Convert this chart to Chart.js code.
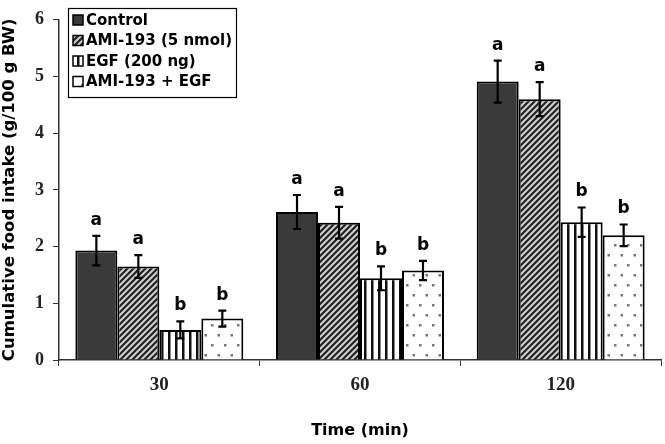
<!DOCTYPE html>
<html><head><meta charset="utf-8">
<script src="https://cdn.jsdelivr.net/npm/chart.js@4.4.1/dist/chart.umd.min.js"></script>
<style>html,body{margin:0;padding:0;background:#fff;}#wrap{width:665px;height:444px;}</style>
</head><body><div id="wrap"><canvas id="c" width="665" height="444"></canvas></div>
<script>
// ---- data ----
const categories = ['30', '60', '120'];
const seriesNames = ['Control', 'AMI-193 (5 nmol)', 'EGF (200 ng)', 'AMI-193 + EGF'];
const control = [1.93, 2.61, 4.91];
const ami = [1.65, 2.42, 4.60];
const egf = [0.53, 1.44, 2.43];
const combo = [0.73, 1.58, 2.20];
const controlErr = [0.26, 0.30, 0.37];
const amiErr = [0.20, 0.28, 0.30];
const egfErr = [0.15, 0.21, 0.26];
const comboErr = [0.14, 0.17, 0.19];
const controlSig = ['a', 'a', 'a'];
const amiSig = ['a', 'a', 'a'];
const egfSig = ['b', 'b', 'b'];
const comboSig = ['b', 'b', 'b'];
const yTicks = [0, 1, 2, 3, 4, 5, 6];
const xTitle = 'Time (min)';
const yTitle = 'Cumulative food intake (g/100 g BW)';

// ---- patterns ----
function mkPattern(w, h, draw) {
  const c = document.createElement('canvas');
  c.width = w; c.height = h;
  const g = c.getContext('2d');
  draw(g, w, h);
  return document.getElementById('c').getContext('2d').createPattern(c, 'repeat');
}
const hatch = mkPattern(6, 6, (g, w, h) => {
  g.fillStyle = '#d0d0d0'; g.fillRect(0, 0, w, h);
  g.strokeStyle = '#222'; g.lineWidth = 2.2;
  g.beginPath();
  g.moveTo(-1, 7); g.lineTo(7, -1);
  g.moveTo(-4, 4); g.lineTo(4, -4);
  g.moveTo(2, 10); g.lineTo(10, 2);
  g.stroke();
});
const vstripe = mkPattern(7, 7, (g, w, h) => {
  g.fillStyle = '#ffffff'; g.fillRect(0, 0, w, h);
  g.fillStyle = '#111111'; g.fillRect(0, 0, 2.5, h);
});
const dots = mkPattern(13, 20, (g, w, h) => {
  g.fillStyle = '#ffffff'; g.fillRect(0, 0, w, h);
  g.fillStyle = '#777777';
  g.fillRect(3, 4, 2.5, 2.5);
  g.fillRect(9.5, 14, 2.5, 2.5);
});
const fills = ['#3a3a3a', hatch, vstripe, dots];
const seriesValues = [control, ami, egf, combo];
const seriesErr = [controlErr, amiErr, egfErr, comboErr];
const seriesSig = [controlSig, amiSig, egfSig, comboSig];

const datasets = seriesNames.map((n, i) => ({
  label: n,
  data: seriesValues[i],
  err: seriesErr[i],
  sig: seriesSig[i],
  backgroundColor: fills[i],
  borderColor: '#000',
  borderWidth: 2,
  borderSkipped: 'start',
  categoryPercentage: 0.837,
  barPercentage: 1.0
}));

const sansB = 'DejaVu Sans';
const serif = 'Liberation Serif';

const extras = {
  id: 'extras',
  afterDatasetsDraw(chart) {
    const ctx = chart.ctx;
    const ys = chart.scales.y;
    ctx.save();
    chart.data.datasets.forEach((ds, i) => {
      const meta = chart.getDatasetMeta(i);
      meta.data.forEach((bar, j) => {
        const v = ds.data[j], e = ds.err[j];
        const x = bar.x;
        const yT = ys.getPixelForValue(v + e);
        const yB = ys.getPixelForValue(v - e);
        ctx.strokeStyle = '#000'; ctx.lineWidth = 2.2;
        ctx.beginPath();
        ctx.moveTo(x, yT); ctx.lineTo(x, yB);
        ctx.moveTo(x - 4, yT); ctx.lineTo(x + 4, yT);
        ctx.moveTo(x - 4, yB); ctx.lineTo(x + 4, yB);
        ctx.stroke();
        ctx.fillStyle = '#000';
        ctx.font = 'bold 17px "' + sansB + '"';
        ctx.textAlign = 'center'; ctx.textBaseline = 'alphabetic';
        ctx.fillText(ds.sig[j], x, yT - 11);
      });
    });
    // legend
    const lx = 68, ly = 8, lw = 168, lh = 89;
    ctx.fillStyle = '#fff'; ctx.fillRect(lx, ly, lw, lh);
    ctx.strokeStyle = '#000'; ctx.lineWidth = 1.2;
    ctx.strokeRect(lx + 0.5, ly + 0.5, lw, lh);
    chart.data.datasets.forEach((ds, i) => {
      const cy = 20 + i * 20.5;
      ctx.fillStyle = ds.backgroundColor;
      ctx.fillRect(73, cy - 5, 10, 10);
      ctx.strokeStyle = '#000'; ctx.lineWidth = 1.5;
      ctx.strokeRect(73, cy - 5, 10, 10);
      ctx.fillStyle = '#000';
      ctx.font = 'bold 15px "' + sansB + '"';
      ctx.textAlign = 'left'; ctx.textBaseline = 'middle';
      ctx.fillText(ds.label, 86, cy + 1);
    });
    ctx.restore();
  }
};

new Chart(document.getElementById('c'), {
  type: 'bar',
  data: { labels: categories, datasets },
  plugins: [extras],
  options: {
    responsive: false,
    devicePixelRatio: 1,
    animation: false,
    layout: { padding: { left: 0, right: 4, top: 9, bottom: 0 } },
    plugins: { legend: { display: false }, tooltip: { enabled: false } },
    scales: {
      x: {
        afterFit(s) { s.height = 84; },
        grid: { display: true, drawOnChartArea: false, drawTicks: true, tickLength: 6, color: '#333', offset: true },
        border: { display: true, color: '#333', width: 1.5 },
        ticks: { color: '#222', font: { family: serif, size: 19, weight: 'bold' }, padding: 8 },
        title: { display: true, text: xTitle, color: '#000', font: { family: sansB, size: 16, weight: 'bold' }, padding: { top: 0, bottom: 4 } }
      },
      y: {
        min: 0, max: 6,
        afterFit(s) { s.width = 59; },
        afterBuildTicks(s) { s.ticks = yTicks.map(v => ({ value: v })); },
        grid: { display: true, drawOnChartArea: false, drawTicks: true, tickLength: 6, color: '#333' },
        border: { display: true, color: '#333', width: 1.5 },
        ticks: { color: '#222', font: { family: serif, size: 18, weight: 'bold' }, padding: 9 },
        title: { display: true, text: yTitle, color: '#000', font: { family: sansB, size: 16.5, weight: 'bold' }, padding: { top: 0, bottom: 0 } }
      }
    }
  }
});
</script></body></html>
